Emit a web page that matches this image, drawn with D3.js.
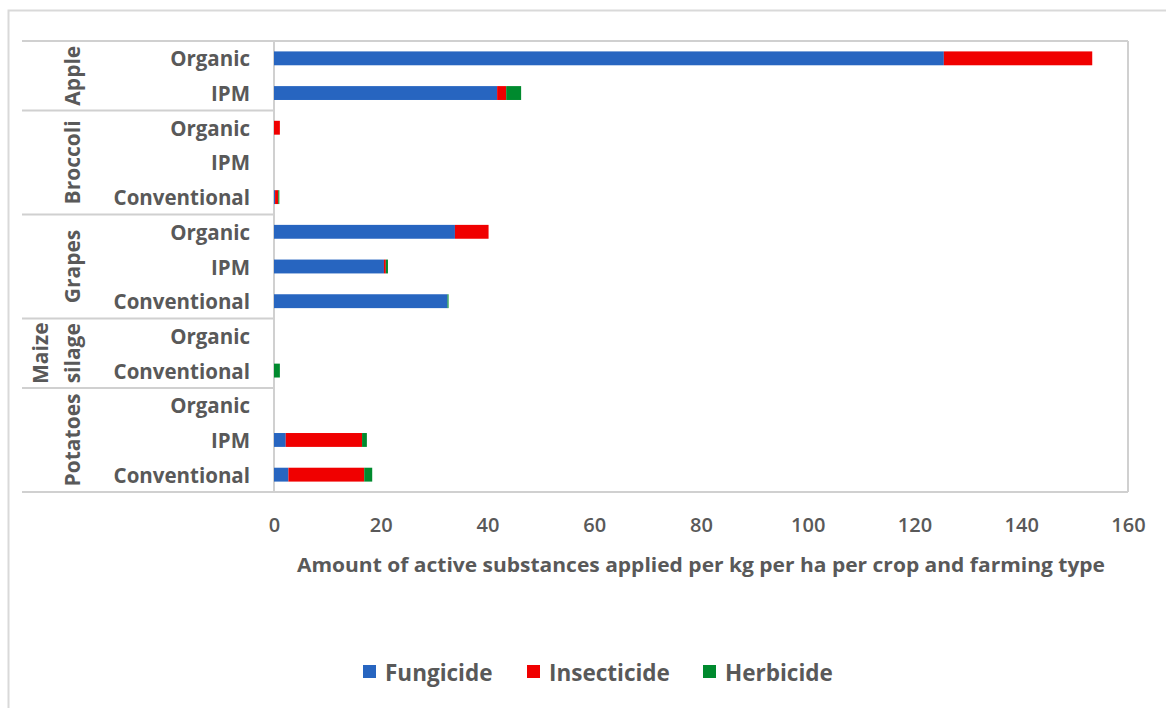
<!DOCTYPE html>
<html>
<head>
<meta charset="utf-8">
<script src="https://cdn.jsdelivr.net/npm/d3@7"></script>
<style>
  html, body { margin: 0; padding: 0; background: #fff; }
  svg { display: block; }
  text { font-family: "Open Sans", "Noto Sans", sans-serif; fill: #595959; font-weight: 600; }
</style>
</head>
<body>
<svg id="chart" width="1166" height="708"></svg>
<script>
// ---- data ----
const rowCrop = ["Apple","Apple","Broccoli","Broccoli","Broccoli","Grapes","Grapes","Grapes","Maize silage","Maize silage","Potatoes","Potatoes","Potatoes"];
const rowType = ["Organic","IPM","Organic","IPM","Conventional","Organic","IPM","Conventional","Organic","Conventional","Organic","IPM","Conventional"];
const fungicide   = [125.5, 41.8, 0,   0, 0.2, 33.9, 20.6, 32.5, 0, 0,   0, 2.2,  2.7];
const insecticide = [27.8,  1.7,  1.1, 0, 0.6, 6.3,  0.35, 0,    0, 0,   0, 14.3, 14.2];
const herbicide   = [0,     2.8,  0,   0, 0.2, 0,    0.4,  0.2,  0, 1.1, 0, 0.9,  1.5];
const crops = ["Apple","Broccoli","Grapes","Maize silage","Potatoes"];
const seriesNames = ["Fungicide","Insecticide","Herbicide"];
const seriesColors = ["#2765C0","#F00000","#008A2E"];
const xTicks = [0,20,40,60,80,100,120,140,160];
const xTitle = "Amount of active substances applied per kg per ha per crop and farming type";

// ---- layout ----
const svg = d3.select("#chart");
const plot = {left: 274, right: 1128, top: 41, bottom: 492};
const gridColor = "#d0d0d0";

// outer border
svg.append("rect").attr("x", 8.5).attr("y", 10.5).attr("width", 1170).attr("height", 720)
  .attr("fill", "none").attr("stroke", "#d9d9d9").attr("stroke-width", 2);

const rows = rowType.map((t, i) => ({
  key: i, crop: rowCrop[i], type: t,
  Fungicide: fungicide[i], Insecticide: insecticide[i], Herbicide: herbicide[i]
}));

const x = d3.scaleLinear().domain([0, 160]).range([plot.left, plot.right]);
const y = d3.scaleBand().domain(rows.map(r => r.key)).range([plot.top, plot.bottom]).paddingInner(0.6).paddingOuter(0.3);

// frame
const frame = svg.append("g").attr("stroke", gridColor).attr("stroke-width", 2).attr("fill", "none");
frame.append("line").attr("x1", plot.left).attr("x2", plot.right).attr("y1", plot.top).attr("y2", plot.top);
frame.append("line").attr("x1", plot.right).attr("x2", plot.right).attr("y1", plot.top).attr("y2", plot.bottom);
frame.append("line").attr("x1", plot.left).attr("x2", plot.left).attr("y1", plot.top).attr("y2", plot.bottom);

// group separators
const step = (plot.bottom - plot.top) / rows.length;
const groupBounds = crops.map(c => {
  const idx = rows.filter(r => r.crop === c).map(r => r.key);
  return {crop: c, start: d3.min(idx), end: d3.max(idx) + 1};
});
const sepYs = [0, ...groupBounds.map(g => g.end)];
frame.selectAll("line.sep").data(sepYs).join("line").attr("class", "sep")
  .attr("x1", 22).attr("x2", d => d === rows.length ? plot.right : plot.left)
  .attr("y1", d => plot.top + d * step).attr("y2", d => plot.top + d * step);

// bars
const stack = d3.stack().keys(seriesNames);
const stacked = stack(rows);
const color = d3.scaleOrdinal().domain(seriesNames).range(seriesColors);
svg.append("g").selectAll("g").data(stacked).join("g")
  .attr("fill", d => color(d.key))
  .selectAll("rect").data(d => d.filter(p => p[1] - p[0] > 0)).join("rect")
  .attr("x", p => x(p[0]))
  .attr("width", p => x(p[1]) - x(p[0]))
  .attr("y", p => y(p.data.key))
  .attr("height", y.bandwidth());

// row labels
svg.append("g").selectAll("text").data(rows).join("text")
  .attr("x", 250).attr("y", r => y(r.key) + y.bandwidth() / 2)
  .attr("text-anchor", "end").attr("dominant-baseline", "central")
  .attr("font-size", 20.5).style("font-weight", 700).text(r => r.type);

// group labels (rotated)
groupBounds.forEach(g => {
  const cy = plot.top + (g.start + g.end) / 2 * step;
  const words = g.crop.split(" ");
  const cxs = words.length === 1 ? [72] : [40, 72];
  words.forEach((w, i) => {
    svg.append("text")
      .attr("transform", `translate(${cxs[i]},${cy}) rotate(-90)`)
      .attr("text-anchor", "middle").attr("dominant-baseline", "central")
      .attr("font-size", 21).style("font-weight", 700).text(w);
  });
});

// x axis
const xAxis = d3.axisBottom(x).tickValues(xTicks).tickSize(0).tickPadding(0).tickFormat(d3.format("d"));
const gx = svg.append("g").attr("transform", `translate(0,${plot.bottom})`).call(xAxis);
gx.select(".domain").remove();
gx.selectAll("text").attr("font-size", 20).attr("dy", null).attr("y", 40)
  .style("font-family", "'Open Sans', sans-serif").attr("fill", "#595959");

// x title
svg.append("text").attr("x", 701).attr("y", 572).attr("text-anchor", "middle")
  .attr("font-size", 19).attr("textLength", 808).attr("lengthAdjust", "spacingAndGlyphs")
  .style("font-weight", 700).text(xTitle);

// legend
const legendX = [363, 527, 703];
const lg = svg.append("g").selectAll("g").data(seriesNames).join("g")
  .attr("transform", (d, i) => `translate(${legendX[i]},671)`);
lg.append("rect").attr("x", 0).attr("y", -6).attr("width", 13).attr("height", 13).attr("fill", d => color(d));
lg.append("text").attr("x", 22).attr("y", 1).attr("dominant-baseline", "central")
  .attr("font-size", 22.5).style("font-weight", 700).text(d => d);
</script>
</body>
</html>
